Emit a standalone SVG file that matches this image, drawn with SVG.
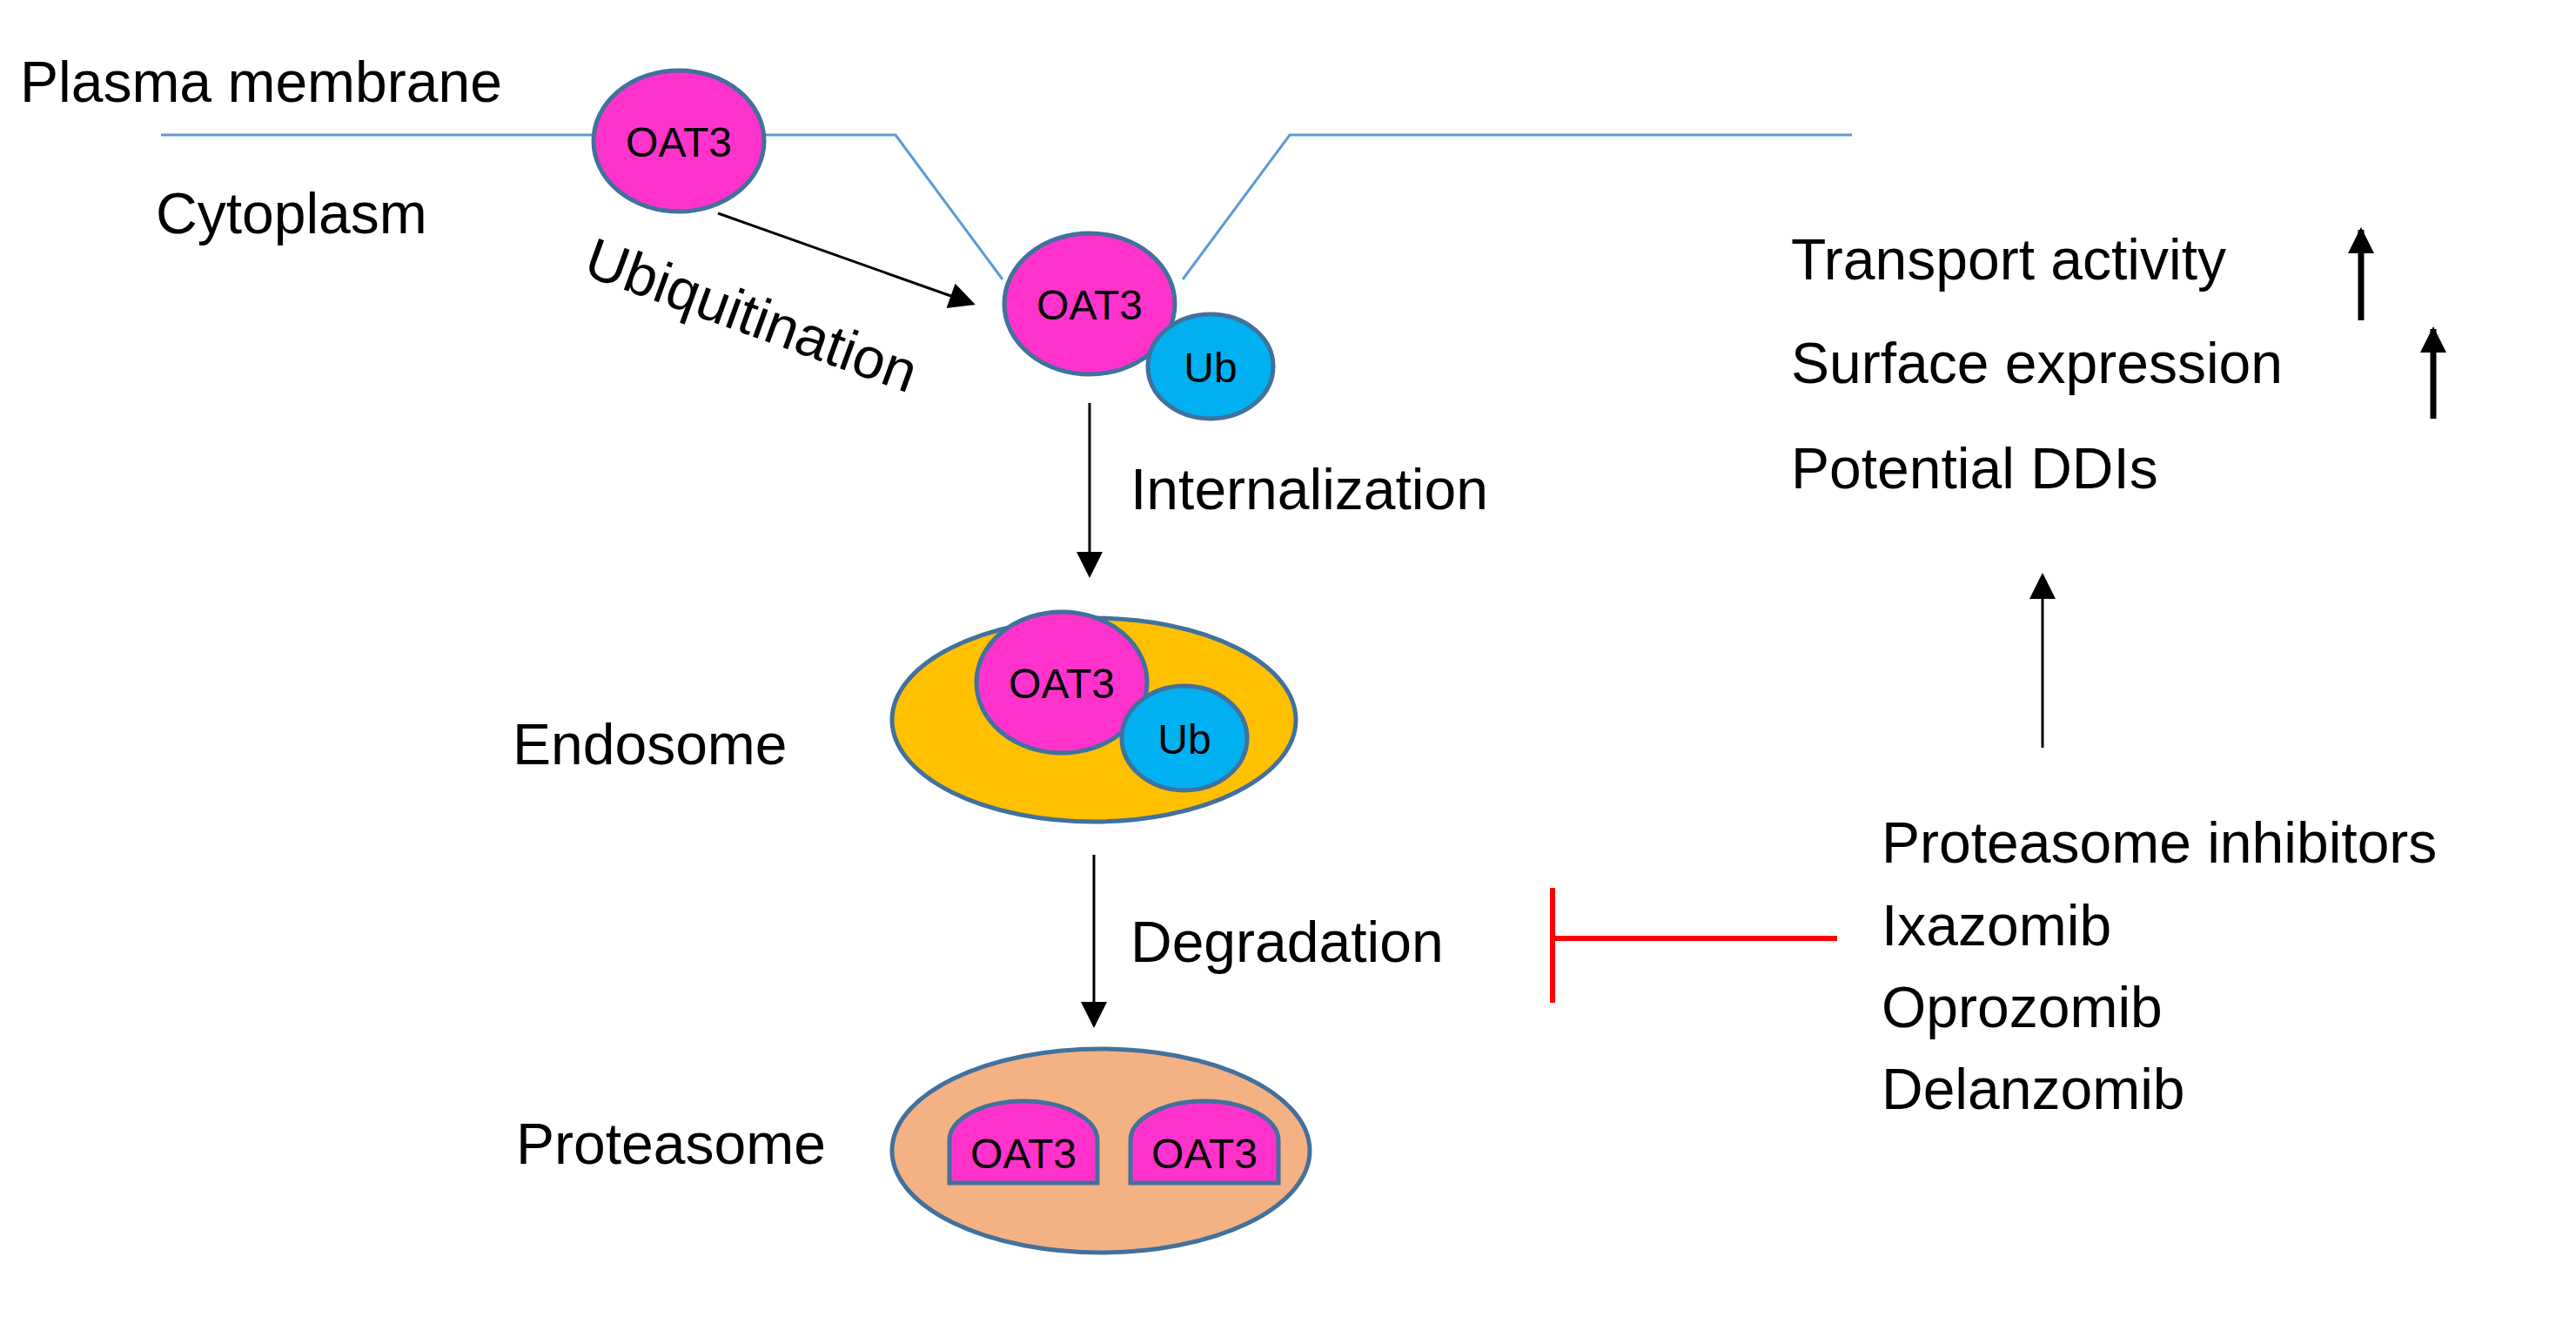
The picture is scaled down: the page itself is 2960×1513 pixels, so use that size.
<svg xmlns="http://www.w3.org/2000/svg" width="2960" height="1513" viewBox="0 0 2960 1513">
<style>
text{font-family:"Liberation Sans",Arial,sans-serif;fill:#000}
.t{font-size:66px}
.o{font-size:48px;text-anchor:middle}
.oat{fill:#FF33CC;stroke:#41719C;stroke-width:5}
.ub{fill:#00B0F0;stroke:#41719C;stroke-width:5}
.ln{stroke:#000;stroke-width:3;fill:none}
</style>
<defs>
<marker id="ah" markerWidth="10" markerHeight="10" refX="9" refY="5" orient="auto" markerUnits="userSpaceOnUse" viewBox="0 0 10 10"><path d="M0,0L10,5L0,10z" fill="#000"/></marker>
<marker id="ah2" viewBox="0 0 10 10" refX="9" refY="5" markerWidth="34" markerHeight="30" orient="auto" markerUnits="userSpaceOnUse"><path d="M0,0L10,5L0,10z" fill="#000"/></marker>
</defs>
<g id="membrane"><polyline points="185,155 1029,155 1152,321" fill="none" stroke="#5B9BD5" stroke-width="3"/><polyline points="1359,321 1482,155 2128,155" fill="none" stroke="#5B9BD5" stroke-width="3"/></g>
<text class="t" x="23" y="117">Plasma membrane</text>
<text class="t" x="179" y="268">Cytoplasm</text>
<g id="connectors">
<line class="ln" x1="825" y1="245" x2="1118" y2="349" marker-end="url(#ah2)"/>
<line class="ln" x1="1252" y1="463" x2="1252" y2="661" marker-end="url(#ah2)"/>
<line class="ln" x1="1257" y1="982" x2="1257" y2="1178" marker-end="url(#ah2)"/>
<line class="ln" x1="2347" y1="859" x2="2347" y2="661" marker-end="url(#ah2)"/>
<line stroke="#000" stroke-width="7" x1="2713" y1="368" x2="2713" y2="264" marker-end="url(#ah2)"/>
<line stroke="#000" stroke-width="7" x1="2796" y1="481" x2="2796" y2="378" marker-end="url(#ah2)"/>
<g id="inhibit" stroke="#FF0000" stroke-width="6"><line x1="1784" y1="1020" x2="1784" y2="1152"/><line x1="1784" y1="1078" x2="2111" y2="1078"/></g>
</g>
<g id="oat3-membrane"><ellipse class="oat" cx="780" cy="162" rx="98" ry="81"/><text class="o" x="780" y="180">OAT3</text></g>
<text class="t" transform="translate(668,315) rotate(20)">Ubiquitination</text>
<g id="oat3-ub"><ellipse class="oat" cx="1252" cy="349" rx="98" ry="81"/><text class="o" x="1252" y="367">OAT3</text>
<ellipse class="ub" cx="1391" cy="421" rx="72" ry="60"/><text class="o" x="1391" y="439">Ub</text></g>
<text class="t" x="1299" y="585">Internalization</text>
<g id="endosome"><ellipse cx="1257" cy="827" rx="232" ry="117" fill="#FFC000" stroke="#41719C" stroke-width="5"/>
<ellipse class="oat" cx="1220" cy="784" rx="98" ry="81"/><text class="o" x="1220" y="802">OAT3</text>
<ellipse class="ub" cx="1361" cy="848" rx="72" ry="60"/><text class="o" x="1361" y="866">Ub</text></g>
<text class="t" x="589" y="878">Endosome</text>
<text class="t" x="1299" y="1105">Degradation</text>
<g id="proteasome"><ellipse cx="1265" cy="1322" rx="240" ry="117" fill="#F4B183" stroke="#41719C" stroke-width="5"/>
<path class="oat" d="M1091,1359 L1091,1310 A85,45 0 0 1 1261,1310 L1261,1359 Z"/><text class="o" x="1176" y="1342">OAT3</text>
<path class="oat" d="M1299,1359 L1299,1310 A85,45 0 0 1 1469,1310 L1469,1359 Z"/><text class="o" x="1384" y="1342">OAT3</text></g>
<text class="t" x="593" y="1337">Proteasome</text>
<g id="inhibitors"><text class="t" x="2162" y="991">Proteasome inhibitors</text><text class="t" x="2162" y="1086">Ixazomib</text><text class="t" x="2162" y="1180">Oprozomib</text><text class="t" x="2162" y="1274">Delanzomib</text></g>
<g id="effects"><text class="t" x="2058" y="321">Transport activity</text><text class="t" x="2058" y="440">Surface expression</text><text class="t" x="2058" y="561">Potential DDIs</text></g>
</svg>
